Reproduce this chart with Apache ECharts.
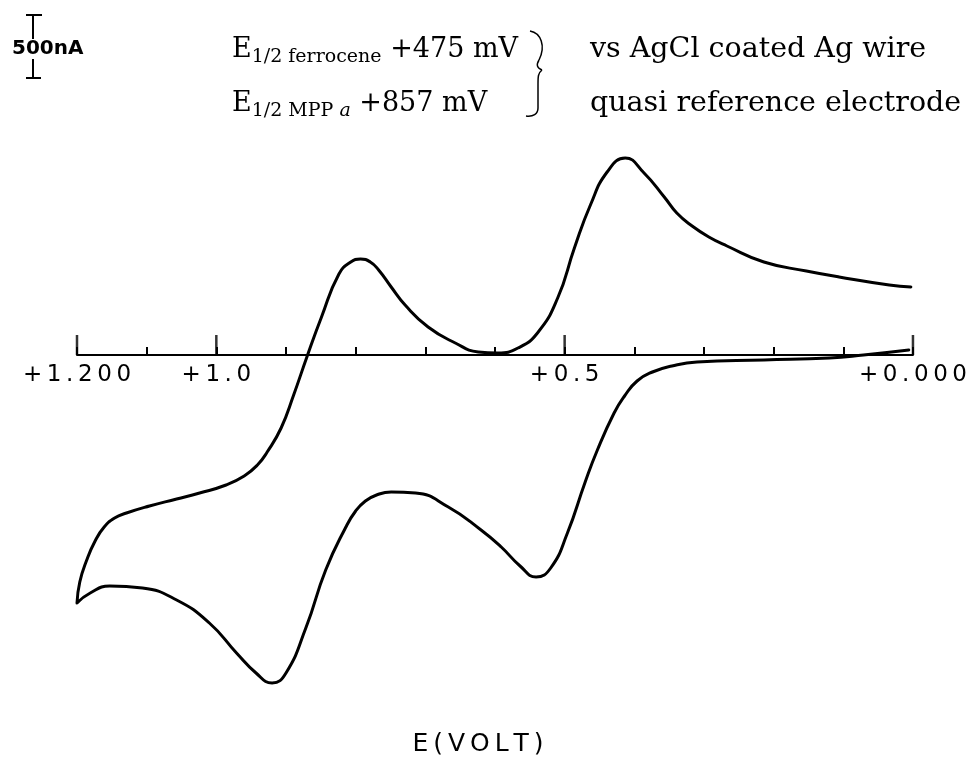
<!DOCTYPE html>
<html>
<head>
<meta charset="UTF-8">
<title>Cyclic voltammogram</title>
<style>html,body{margin:0;padding:0;background:#fff;}</style>
</head>
<body>
<div id="container" style="width:970px;height:759px"></div>
<script src="https://cdn.jsdelivr.net/npm/echarts@6/dist/echarts.min.js"></script>
<script>
// potential E (V) and current (nA)
// forward sweep: 0.0 V -> +1.2 V (upper branch)
var forwardScan = [
    [0.003, 544], [0.034, 560], [0.106, 624], [0.153, 672], [0.214, 744],
    [0.267, 872], [0.293, 944], [0.317, 1032], [0.339, 1136], [0.357, 1264],
    [0.386, 1456], [0.413, 1576], [0.439, 1464], [0.463, 1200], [0.486, 856],
    [0.510, 456], [0.539, 176], [0.567, 56], [0.596, 16], [0.624, 24],
    [0.657, 96], [0.696, 224], [0.729, 400], [0.749, 544], [0.767, 680],
    [0.779, 744], [0.793, 768], [0.807, 744], [0.824, 648], [0.849, 304],
    [0.870, -16], [0.889, -320], [0.907, -584], [0.927, -776], [0.941, -880],
    [0.960, -968], [0.986, -1040], [1.024, -1104], [1.057, -1152], [1.096, -1208],
    [1.129, -1264], [1.146, -1304], [1.161, -1376], [1.174, -1488], [1.186, -1640],
    [1.196, -1816], [1.200, -1984]
];
// reverse sweep: +1.2 V -> 0.0 V (lower branch)
var reverseScan = [
    [1.181, -1904], [1.153, -1848], [1.106, -1864], [1.057, -1960], [1.010, -2144],
    [0.971, -2384], [0.943, -2544], [0.920, -2624], [0.900, -2544], [0.871, -2176],
    [0.843, -1720], [0.814, -1376], [0.800, -1248], [0.786, -1168], [0.770, -1120],
    [0.749, -1096], [0.714, -1104], [0.667, -1216], [0.620, -1400], [0.591, -1536],
    [0.564, -1688], [0.541, -1776], [0.520, -1704], [0.496, -1424], [0.471, -1024],
    [0.453, -760], [0.429, -464], [0.414, -328], [0.396, -208], [0.374, -136],
    [0.346, -88], [0.310, -56], [0.214, -40], [0.120, -24], [0.071, 0],
    [0.006, 40]
];
var majorTicks = [1.2, 1.0, 0.5, 0.0];
var tickLabels = { '1.2': '+1.200', '1': '+1.0', '0.5': '+0.5', '0': '+0.000' };

function spaced(s) {
    return s.split('').join('\u2009');
}

var dom = document.getElementById('container');
var myChart = echarts.init(dom, null, { renderer: 'canvas' });

var serif = 'DejaVu Serif';
var plotter = 'DejaVu Sans';
var ink = { stroke: '#000', lineWidth: 2 };
var braceInk = { stroke: '#000', lineWidth: 1.5, fill: null };

// grid: zero current sits at y = 355
var gridTop = 100, gridBottom = 39;
var zeroY = 355;

var option = {
    animation: false,
    backgroundColor: '#fff',
    grid: { left: 77, right: 53, top: gridTop, bottom: gridBottom },
    xAxis: {
        type: 'value',
        inverse: true,
        min: 0,
        max: 1.2,
        interval: 0.1,
        position: 'bottom',
        offset: -(759 - gridBottom - zeroY),
        splitLine: { show: false },
        axisLine: { onZero: false, lineStyle: { color: '#000', width: 2 } },
        axisTick: { inside: true, length: 8, lineStyle: { color: '#000', width: 2 } },
        axisLabel: {
            color: '#000',
            fontFamily: plotter,
            fontSize: 23,
            margin: 9,
            showMinLabel: true,
            showMaxLabel: true,
            formatter: function (v) {
                var key = String(Math.round(v * 10) / 10);
                return tickLabels[key] ? spaced(tickLabels[key]) : '';
            }
        }
    },
    yAxis: {
        type: 'value',
        min: -2920,
        max: 2040,
        show: false
    },
    series: [
        {
            type: 'line',
            data: forwardScan.concat(reverseScan),
            symbol: 'none',
            smooth: 0.5,
            lineStyle: { color: '#000', width: 3, cap: 'round', join: 'round' },
            silent: true
        },
        {
            type: 'scatter',
            data: majorTicks.map(function (v) { return [v, 0]; }),
            symbol: 'rect',
            symbolSize: [2.5, 20],
            symbolOffset: [0, -10],
            itemStyle: { color: '#000' },
            silent: true
        }
    ],
    graphic: [
        // 500 nA scale bar
        { type: 'line', shape: { x1: 26, y1: 15, x2: 42, y2: 15 }, style: ink },
        { type: 'line', shape: { x1: 33, y1: 15, x2: 33, y2: 39 }, style: ink },
        { type: 'line', shape: { x1: 33, y1: 59, x2: 33, y2: 78 }, style: ink },
        { type: 'line', shape: { x1: 26, y1: 78, x2: 41, y2: 78 }, style: ink },
        {
            type: 'text', x: 12, y: 49,
            style: { text: '500nA', fontFamily: plotter, fontSize: 20, fontWeight: 'bold', fill: '#000', verticalAlign: 'middle' }
        },
        {
            type: 'text', x: 232, y: 50,
            style: {
                text: '{m|E}{s|1/2 ferrocene}{m| +475 mV}',
                verticalAlign: 'middle',
                rich: {
                    m: { fontFamily: serif, fontSize: 27, lineHeight: 34, fill: '#000' },
                    s: { fontFamily: serif, fontSize: 19, lineHeight: 22, verticalAlign: 'bottom', fill: '#000' }
                }
            }
        },
        {
            type: 'text', x: 232, y: 104,
            style: {
                text: '{m|E}{s|1/2 MPP }{i|a}{m| +857 mV}',
                verticalAlign: 'middle',
                rich: {
                    m: { fontFamily: serif, fontSize: 27, lineHeight: 34, fill: '#000' },
                    s: { fontFamily: serif, fontSize: 19, lineHeight: 22, verticalAlign: 'bottom', fill: '#000' },
                    i: { fontFamily: serif, fontSize: 19, fontStyle: 'italic', lineHeight: 22, verticalAlign: 'bottom', fill: '#000' }
                }
            }
        },
        // brace
        { type: 'bezierCurve', shape: { x1: 530, y1: 31, cpx1: 541, cpy1: 33, cpx2: 546, cpy2: 46, x2: 539, y2: 60 }, style: braceInk },
        { type: 'bezierCurve', shape: { x1: 539, y1: 60, cpx1: 536, cpy1: 65, cpx2: 537, cpy2: 68, x2: 542, y2: 70 }, style: braceInk },
        { type: 'bezierCurve', shape: { x1: 542, y1: 70, cpx1: 538, cpy1: 73, cpx2: 538, cpy2: 77, x2: 538, y2: 84 }, style: braceInk },
        { type: 'line', shape: { x1: 538, y1: 84, x2: 538, y2: 108 }, style: braceInk },
        { type: 'bezierCurve', shape: { x1: 538, y1: 108, cpx1: 538, cpy1: 114, cpx2: 533, cpy2: 117, x2: 526, y2: 116 }, style: braceInk },
        {
            type: 'text', x: 590, y: 50,
            style: { text: 'vs AgCl coated Ag wire', fontFamily: serif, fontSize: 28.5, fill: '#000', verticalAlign: 'middle' }
        },
        {
            type: 'text', x: 590, y: 104,
            style: { text: 'quasi reference electrode', fontFamily: serif, fontSize: 28.5, fill: '#000', verticalAlign: 'middle' }
        },
        {
            type: 'text', x: 478, y: 744,
            style: { text: spaced('E(VOLT)'), fontFamily: plotter, fontSize: 25, fill: '#000', align: 'center', verticalAlign: 'middle' }
        }
    ]
};

myChart.setOption(option);
</script>
</body>
</html>
